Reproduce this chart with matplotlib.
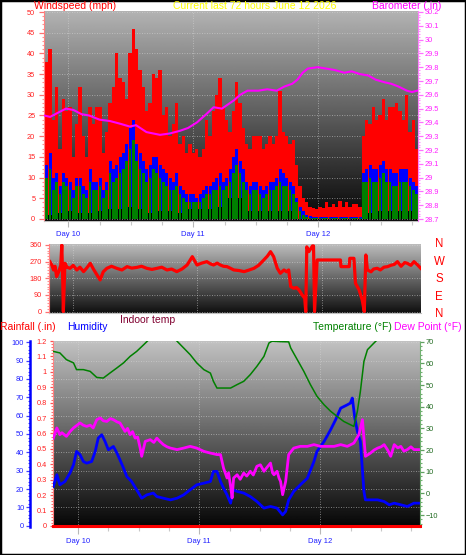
import numpy as np
import matplotlib
matplotlib.use('Agg')
import matplotlib.pyplot as plt
from matplotlib.ticker import MultipleLocator, FixedLocator, FuncFormatter
from matplotlib.patches import Rectangle

plt.rcParams['font.family'] = ['Liberation Sans', 'DejaVu Sans']

W, H = 466, 555

# ---- wind (mph), one sample every ~0.64 h ----
gust = [38, 41, 24, 32, 17, 29, 26, 27, 15, 23,
        32, 20, 15, 27, 23, 27, 27, 16, 21, 28,
        32, 40, 34, 33, 29, 40, 46, 41, 36, 32,
        26, 28, 35, 34, 36, 25, 27, 20, 23, 28,
        18, 20, 16, 18, 16, 17, 15, 17, 24, 20,
        26, 30, 34, 27, 24, 21, 26, 33, 28, 22,
        18, 17, 20, 20, 20, 17, 18, 20, 18, 20,
        31, 21, 20, 18, 19, 13, 8, 5, 4, 3,
        2.7, 2.4, 3, 2.7, 4, 3, 3.5, 3, 4.4, 3,
        4, 3, 3.5, 3.5, 3, 20, 24, 23, 27, 24,
        25, 29, 24, 27, 27, 28, 26, 24, 30, 21,
        24, 17]
wind_avg = [13, 16, 10, 11, 8, 11, 10, 9, 7, 10,
            10, 8, 7, 12, 9, 9, 10, 7, 9, 14,
            12, 13, 15, 16, 18, 22, 24, 18, 16, 14,
            12, 13, 15, 15, 13, 12, 11, 10, 9, 11,
            8, 7, 6, 6, 6, 5, 6, 7, 8, 8,
            9, 10, 11, 9, 10, 12, 15, 17, 14, 12,
            9, 8, 9, 9, 8, 7, 8, 9, 9, 10,
            12, 11, 10, 9, 8, 5, 3, 2, 1, 0.8,
            0.5, 0.5, 0.5, 0.5, 0.5, 0.5, 0.5, 0.5, 0.5, 0.5,
            0.5, 0.5, 0.5, 0.5, 0.5, 11, 12, 13, 12, 12,
            13, 14, 12, 12, 11, 11, 12, 12, 12, 10,
            9, 8]
wind_speed = [10, 12, 7, 9, 6, 9, 8, 7, 5, 8,
              8, 6, 5, 9, 7, 7, 8, 5, 7, 11,
              9, 10, 11, 12, 14, 17, 19, 14, 12, 11,
              9, 10, 12, 11, 10, 9, 8, 7, 7, 8,
              6, 5, 4, 4, 4, 4, 4, 5, 6, 6,
              7, 7, 8, 7, 8, 9, 11, 13, 11, 9,
              7, 6, 7, 7, 6, 5, 6, 7, 7, 8,
              9, 8, 8, 7, 6, 4, 2, 1, 0.5, 0.3,
              0.2, 0.2, 0.2, 0.2, 0.2, 0.2, 0.2, 0.2, 0.2, 0.2,
              0.2, 0.2, 0.2, 0.2, 0.2, 9, 9, 10, 9, 9,
              10, 11, 9, 9, 8, 8, 9, 9, 9, 8,
              7, 6]
wind_low = [1.5, 1, 1.5, 1, 1.5,
            2, 1.5, 2, 2.5, 2, 1.5, 2, 2, 1.5, 2, 2.5, 2, 1.5,
            3, 2.5, 3, 3, 2.5, 3, 3.5, 3, 2.5, 3, 2.5,
            2, 2, 1.5, 2, 2.5, 2, 1.5, 2, 2, 2.5, 2, 1.5, 2,
            3, 2.5, 3, 3, 2.5, 3, 3, 2.5, 3, 3.5, 3, 3,
            4, 5, 5.5, 5.5, 5, 4.5, 3.5,
            2, 2, 2.5, 2, 1.5, 2, 2, 2.5, 2, 2, 1.5, 2, 2, 1.5, 1,
            0, 0, 0, 0, 0, 0, 0, 0, 0, 0, 0, 0, 0, 0, 0, 0, 0, 0, 0,
            2, 2, 1.5, 2, 2.5, 2, 2, 1.5, 2, 2, 2.5, 2, 2, 1.5, 2, 2, 1.5]
wind_hours = np.linspace(-4.15, 66.9, len(gust))

baro_hours = [-4.6, -3.5, -2.0, -0.45, 1.0, 2.5, 4.0, 6.0, 8.0, 10.0,
              11.8, 13.0, 15.0, 17.6, 19.5, 21.5, 23.0, 24.7, 26.5, 27.9,
              29.5, 31.8, 33.0, 34.4, 36.5, 38.2, 40.0, 41.5, 43.0, 44.0,
              45.0, 46.0, 47.9, 49.5, 51.1, 53.0, 54.4, 56.0, 57.6, 59.0,
              60.8, 62.0, 63.4, 65.0, 66.0, 67.0]
baro = [29.45, 29.44, 29.47, 29.50, 29.49, 29.46, 29.45, 29.42, 29.41, 29.39,
        29.37, 29.38, 29.33, 29.31, 29.32, 29.34, 29.36, 29.40, 29.46, 29.51,
        29.50, 29.56, 29.60, 29.63, 29.63, 29.64, 29.63, 29.66, 29.68, 29.71,
        29.76, 29.79, 29.80, 29.79, 29.78, 29.76, 29.77, 29.75, 29.74, 29.71,
        29.69, 29.68, 29.66, 29.63, 29.62, 29.63]

# ---- wind direction (deg) ----
dir_hours = [-4.5, -4.1, -3.8, -3.5, -3.2, -2.8, -2.4, -2.2, -2.0, -1.9,
             -1.6, -1.2, -0.6, 0.0, 0.7, 1.3, 2.0, 2.6, 3.3, 3.9,
             4.6, 5.2, 5.8, 6.5, 7.4, 8.4, 9.4, 10.4, 11.3, 12.3,
             13.2, 14.2, 15.2, 16.2, 17.1, 18.1, 19.0, 20.0, 21.0, 22.0,
             23.0, 23.9, 24.8, 25.8, 26.5, 27.1, 27.8, 28.4, 29.0, 29.7,
             30.3, 31.0, 32.0, 33.0, 34.0, 34.9, 35.8, 36.8, 37.5, 38.1,
             38.7, 39.4, 40.0, 40.7, 41.2, 41.6, 42.0, 42.6, 43.1, 43.6,
             44.2, 44.7, 44.9, 45.1, 45.5, 46.2, 46.4, 46.6, 47.1, 49.1,
             51.6, 51.7, 52.3, 53.3, 53.4, 54.2, 54.5, 55.2, 55.5, 55.8,
             56.2, 56.5, 56.8, 57.5, 58.0, 58.7, 59.3, 60.0, 60.7, 61.3,
             62.0, 62.6, 63.3, 64.0, 64.5, 65.2, 65.8, 66.5, 67.1]
wind_dir = [270, 250, 225, 245, 189, 215, 250, 360, 150, 0,
            261, 240, 234, 250, 225, 240, 216, 235, 261, 230,
            198, 171, 215, 234, 245, 234, 225, 243, 235, 239,
            245, 234, 228, 234, 240, 225, 230, 216, 230, 252,
            297, 252, 262, 270, 258, 252, 262, 252, 245, 243,
            235, 225, 222, 216, 225, 234, 250, 279, 300, 324,
            297, 234, 207, 225, 215, 225, 135, 126, 130, 117,
            90, 72, 0, 350, 324, 355, 355, 0, 279, 279,
            279, 243, 243, 243, 288, 288, 153, 117, 90, 63,
            0, 306, 225, 215, 230, 234, 225, 240, 243, 250,
            255, 270, 245, 265, 261, 250, 270, 252, 234]

# ---- temperature / dew point (F), humidity (%), rain (in) ----
temp_hours = [-4.9, -3.6, -2.3, -0.9, -0.3, 1.05, 2.4, 3.7, 5.0, 6.3,
              7.7, 9.0, 10.3, 11.6, 13.0, 14.0, 15.5, 17.5, 19.0, 19.6,
              20.9, 22.2, 23.5, 24.9, 26.2, 26.8, 27.5, 28.8, 30.2, 31.5,
              32.8, 34.1, 35.4, 36.8, 37.8, 38.4, 40.1, 41.7, 42.1, 43.4,
              44.7, 46.0, 47.3, 48.7, 50.0, 51.3, 52.6, 53.9, 54.6, 55.3,
              55.9, 56.6, 57.3, 58.6, 59.6, 61.0, 64.0, 67.9]
temp = [65.5, 64.8, 61.7, 60.2, 57.1, 57.1, 56.3, 53.5, 53.2, 55.5,
        57.9, 60.2, 63.2, 65.5, 68.6, 70.9, 73.0, 74.0, 72.0, 70.2,
        67.1, 64.0, 60.2, 57.1, 55.5, 51.7, 48.6, 48.6, 48.6, 50.2,
        51.7, 54.8, 58.6, 63.2, 69.4, 70.2, 70.0, 69.9, 67.1, 61.7,
        56.3, 50.2, 44.8, 40.9, 37.9, 35.5, 33.2, 31.7, 30.9, 37.9,
        47.1, 60.9, 66.3, 69.4, 71.7, 74.0, 76.0, 77.0]

dew_hours = [-4.9, -4.2, -3.6, -3.2, -2.3, -1.6, -0.9, 0.4, 1.0, 1.7,
             2.4, 3.0, 3.7, 4.4, 5.0, 5.7, 6.4, 7.0, 7.7, 8.3,
             9.3, 9.8, 10.3, 10.8, 11.3, 11.8, 12.3, 12.6, 13.3, 14.3,
             15.0, 15.6, 16.2, 16.9, 17.6, 18.3, 19.6, 20.9, 22.2, 23.5,
             24.9, 26.2, 27.5, 28.2, 28.8, 29.5, 29.8, 30.2, 30.5, 30.8,
             31.5, 32.1, 32.8, 33.4, 34.1, 34.7, 35.4, 36.1, 36.8, 37.4,
             38.1, 38.5, 38.8, 39.4, 39.8, 40.1, 40.5, 41.1, 41.7, 42.7,
             44.0, 45.4, 46.7, 48.0, 49.3, 50.7, 52.0, 53.3, 54.6, 55.6,
             56.3, 56.6, 56.9, 57.9, 58.6, 59.3, 60.0, 60.6, 61.3, 61.9,
             62.6, 63.3, 63.9, 64.5, 65.2, 65.9, 66.5, 67.5]
dew = [25.5, 30.2, 27.1, 28.0, 26.3, 28.5, 30.2, 32.5, 31.5, 30.9,
       31.5, 30.2, 34.0, 34.8, 33.5, 33.2, 34.5, 34.0, 33.0, 32.5,
       28.6, 30.0, 27.1, 28.5, 25.5, 26.0, 20.9, 17.1, 24.0, 24.8,
       23.5, 25.5, 24.0, 22.5, 21.5, 20.9, 20.2, 20.9, 21.7, 20.9,
       19.4, 18.6, 17.9, 17.9, 11.7, 7.1, 9.5, 3.2, -2.1, 7.1,
       8.6, 6.5, 9.4, 8.0, 10.2, 8.5, 12.5, 13.2, 10.2, 12.0,
       14.0, 9.5, 8.6, 10.2, 7.0, 5.5, -0.6, 5.5, 17.9, 20.9,
       21.7, 21.7, 22.5, 21.7, 21.7, 21.7, 22.5, 21.7, 23.2, 27.1,
       34.0, 25.5, 17.1, 18.6, 20.0, 20.9, 21.5, 22.5, 20.0, 17.1,
       22.5, 21.0, 21.7, 19.5, 20.2, 21.5, 20.2, 20.2]

hum_hours = [-4.9, -4.2, -3.6, -2.6, -1.6, -0.9, -0.3, 0.4, 1.05, 1.7,
             2.7, 3.4, 4.0, 4.7, 5.35, 6.0, 7.0, 7.7, 8.3, 9.0,
             9.65, 10.6, 11.6, 12.6, 13.6, 14.9, 15.6, 16.9, 18.3, 19.6,
             20.9, 22.2, 23.5, 24.9, 26.2, 26.8, 27.5, 28.2, 28.8, 29.5,
             30.2, 30.7, 31.5, 32.8, 34.1, 35.4, 36.8, 38.1, 39.4, 40.5,
             41.1, 41.7, 42.7, 44.0, 45.4, 46.7, 47.3, 48.7, 50.0, 51.0,
             52.0, 53.3, 53.9, 54.3, 54.8, 55.3, 55.9, 56.6, 56.9, 57.9,
             59.3, 60.6, 61.6, 62.6, 63.9, 65.2, 66.5, 67.5]
humidity = [21.4, 27.8, 22.3, 24.1, 28.7, 33.2, 40.5, 38.7, 35.0, 34.1,
            35.0, 40.5, 47.8, 49.6, 45.9, 41.4, 43.2, 39.6, 35.9, 31.4,
            26.8, 24.1, 19.6, 15.0, 16.8, 17.8, 15.9, 15.0, 14.1, 15.0,
            16.8, 19.6, 22.3, 23.2, 24.1, 29.6, 29.6, 24.1, 20.5, 16.8,
            12.3, 19.6, 18.7, 17.8, 15.9, 13.2, 9.6, 10.5, 9.6, 5.9,
            7.8, 14.1, 18.7, 22.3, 25.9, 35.0, 40.5, 45.9, 52.3, 57.8,
            64.1, 65.9, 66.8, 69.6, 58.7, 51.4, 45.9, 18.7, 14.1, 14.1,
            14.1, 13.2, 11.4, 12.3, 11.4, 10.5, 12.3, 12.3]

rain_hours = [-5.0, 67.7]
rain = [0, 0]

day_hours = [0, 24, 48]
day_labels = ['Day 10', 'Day 11', 'Day 12']
six_hours = [6, 12, 18, 30, 36, 42, 54, 60, 66]
compass = ['N', 'W', 'S', 'E', 'N']


def box(x0, y0, x1, y1):
    return [x0 / W, 1 - y1 / H, (x1 - x0) / W, (y1 - y0) / H]


def shade(ax, top, bottom):
    g = np.linspace(top, bottom, 256)[:, None]
    ax.imshow(g, cmap='gray', vmin=0, vmax=1, extent=(0, 1, 0, 1),
              transform=ax.transAxes, aspect='auto', zorder=0,
              interpolation='bilinear')


def yaxis_style(ax, color, tcolor, mcolor, major, minor, side, length, pad, fmt=None):
    ax.yaxis.set_major_locator(MultipleLocator(major))
    ax.yaxis.set_minor_locator(MultipleLocator(minor))
    if fmt:
        ax.yaxis.set_major_formatter(FuncFormatter(fmt))
    ax.tick_params(axis='y', which='major', colors=tcolor, labelcolor=color,
                   labelsize=5.3, length=length, width=0.9, pad=pad,
                   left=(side == 'left'), labelleft=(side == 'left'),
                   right=(side == 'right'), labelright=(side == 'right'))
    ax.tick_params(axis='y', which='minor', colors=mcolor, length=1.4, width=0.8,
                   left=(side == 'left'), right=(side == 'right'))


def gfmt(v, p):
    return f"{round(v, 2):g}"


fig = plt.figure(figsize=(W / 100, H / 100), dpi=100)
fig.patches.append(Rectangle((0, 0), 1, 1, transform=fig.transFigure,
                             fill=False, ec='black', lw=2.5))

grid_kw = dict(color='#d8d8d8', linestyle=(0, (1, 2)), linewidth=0.6, alpha=0.7)

# ---------------- wind + barometer ----------------
step = wind_hours[1] - wind_hours[0]
ax_w = fig.add_axes(box(44, 11, 418, 221))
shade(ax_w, 0.70, 0.02)
ax_w.bar(wind_hours, gust, width=step, color='#ff0000', lw=0)
ax_w.bar(wind_hours, wind_avg, width=step * 0.9, color='#0000ff', lw=0)
ax_w.bar(wind_hours, wind_low, width=step, color='#000000', lw=0)
ax_w.bar(wind_hours, wind_speed, width=step * 0.75, color='#008000', lw=0)
ax_w.set_xlim(-4.67, 67.15)
ax_w.set_ylim(-0.5, 50.25)
ax_w.set_axisbelow(True)
ax_w.grid(True, which='major', **grid_kw)
yaxis_style(ax_w, '#ff2020', '#ff7070', '#ff9090', 5, 1, 'left', 3.5, 2.8)
ax_w.xaxis.set_major_locator(FixedLocator(day_hours))
ax_w.xaxis.set_minor_locator(FixedLocator(six_hours))
ax_w.set_xticklabels(day_labels)
ax_w.tick_params(axis='x', which='major', colors='#b8b8b8', labelcolor='#2020ff',
                 labelsize=5.5, length=4, width=0.8, pad=3)
ax_w.tick_params(axis='x', which='minor', colors='#c8c8c8', length=3, width=0.8)
for s in ['top', 'right']:
    ax_w.spines[s].set_visible(False)
ax_w.spines['left'].set_color('#ff8080')
ax_w.spines['left'].set_linestyle((0, (1, 1)))
ax_w.spines['bottom'].set_color('#c0c0c0')

ax_p = ax_w.twinx()
ax_p.plot(baro_hours, baro, color='#ff00ff', lw=1.5)
ax_p.set_ylim(28.686, 30.207)
yaxis_style(ax_p, '#ff20ff', '#ff70ff', '#ff90ff', 0.1, 0.02, 'right', 3.5, 1.5, gfmt)
for s in ['top', 'left', 'bottom']:
    ax_p.spines[s].set_visible(False)
ax_p.spines['right'].set_color('#ff80ff')
ax_p.spines['right'].set_linestyle((0, (1, 1)))

# ---------------- wind direction ----------------
ax_d = fig.add_axes(box(49, 244, 421, 313))
shade(ax_d, 0.74, 0.06)
ax_d.plot(dir_hours, wind_dir, color='#ff0000', lw=2.3)
ax_d.set_xlim(-4.67, 67.15)
ax_d.set_ylim(-7.6, 365.4)
ax_d.set_axisbelow(True)
ax_d.xaxis.set_major_locator(FixedLocator(day_hours))
ax_d.grid(True, which='major', **grid_kw)
yaxis_style(ax_d, '#ff2020', '#ff7070', '#ff9090', 90, 15, 'left', 2.9, 2.2)
ax_d.tick_params(axis='x', which='both', bottom=False, labelbottom=False)
for s in ['top', 'right']:
    ax_d.spines[s].set_visible(False)
ax_d.spines['left'].set_color('#ff8080')
ax_d.spines['left'].set_linestyle((0, (1, 1)))
ax_d.spines['bottom'].set_color('#c0c0c0')

# ---------------- rain / humidity / temperature ----------------
ax_r = fig.add_axes(box(53, 341, 420, 527))
shade(ax_r, 0.76, 0.02)
ax_r.set_xlim(-4.96, 67.7)
ax_r.set_ylim(-0.0065, 1.2)
ax_r.set_axisbelow(True)
ax_r.xaxis.set_major_locator(FixedLocator(day_hours))
ax_r.xaxis.set_minor_locator(FixedLocator(six_hours))
ax_r.set_xticklabels(day_labels)
ax_r.grid(True, axis='x', which='major', **grid_kw)
ax_r.tick_params(axis='x', which='major', colors='#b8b8b8', labelcolor='#2020ff',
                 labelsize=5.5, length=5, width=0.8, pad=3)
ax_r.tick_params(axis='x', which='minor', colors='#c8c8c8', length=3, width=0.8)
yaxis_style(ax_r, '#ff2020', '#ff5050', '#ff7070', 0.1, 0.02, 'left', 2.5, 1.9, gfmt)
for s in ['top', 'right']:
    ax_r.spines[s].set_visible(False)
ax_r.spines['left'].set_color('#ff8080')
ax_r.spines['left'].set_linestyle((0, (1, 1)))
ax_r.spines['bottom'].set_color('#c0c0c0')

ax_h = ax_r.twinx()
ax_h.set_ylim(-0.7, 100.7)
ax_h.set_axisbelow(True)
ax_h.grid(True, axis='y', which='major', **grid_kw)
ax_h.yaxis.tick_left()
yaxis_style(ax_h, '#2020ff', '#4040ff', '#4040ff', 10, 2, 'left', 3.1, 1.2)
for s in ['top', 'right', 'bottom']:
    ax_h.spines[s].set_visible(False)
ax_h.spines['left'].set_visible(True)
ax_h.spines['left'].set_position(('outward', 16.4))
ax_h.spines['left'].set_color('#0000ff')
ax_h.spines['left'].set_linewidth(1.8)
ax_h.plot(hum_hours, humidity, color='#0000ff', lw=2.0)

ax_t = ax_r.twinx()
ax_t.set_ylim(-15.5, 70.3)
ax_t.plot(temp_hours, temp, color='#008000', lw=1.1)
ax_t.plot(dew_hours, dew, color='#ff00ff', lw=2.0)
yaxis_style(ax_t, '#1f6a1f', '#60a060', '#70b070', 10, 2, 'right', 2.9, 1.2)
for s in ['top', 'left', 'bottom']:
    ax_t.spines[s].set_visible(False)
ax_t.spines['right'].set_color('#70b070')
ax_t.spines['right'].set_linestyle((0, (1, 1)))

ax_rl = ax_r.twinx()
ax_rl.set_ylim(ax_r.get_ylim())
ax_rl.plot(rain_hours, rain, color='#ff0000', lw=2.2, clip_on=False)
ax_rl.set_xlim(-4.96, 67.7)
ax_rl.axis('off')

# ---------------- texts ----------------
def ftext(x, y, s, color, size=7.5, ha='left'):
    fig.text(x / W, 1 - y / H, s, color=color, fontsize=size, ha=ha, va='center')


ftext(34, 6, 'Windspeed (mph)', '#ff0000')
ftext(255, 6, 'Current last 72 hours June 12 2026', '#ffff00', ha='center')
ftext(372, 6, 'Barometer (.in)', '#ff00ff')
for yy, c in zip([244, 261.5, 279, 296.5, 314], compass):
    ftext(439, yy, c, '#ff0000', size=8.3, ha='center')
ftext(120, 320, 'Indoor temp', '#800030')
ftext(0, 327, 'Rainfall (.in)', '#ff0000')
ftext(67, 327, 'Humidity', '#0000ff')
ftext(313, 327, 'Temperature (°F)', '#008000')
ftext(394, 327, 'Dew Point (°F)', '#ff00ff')

fig.savefig('out.png', dpi=100)
